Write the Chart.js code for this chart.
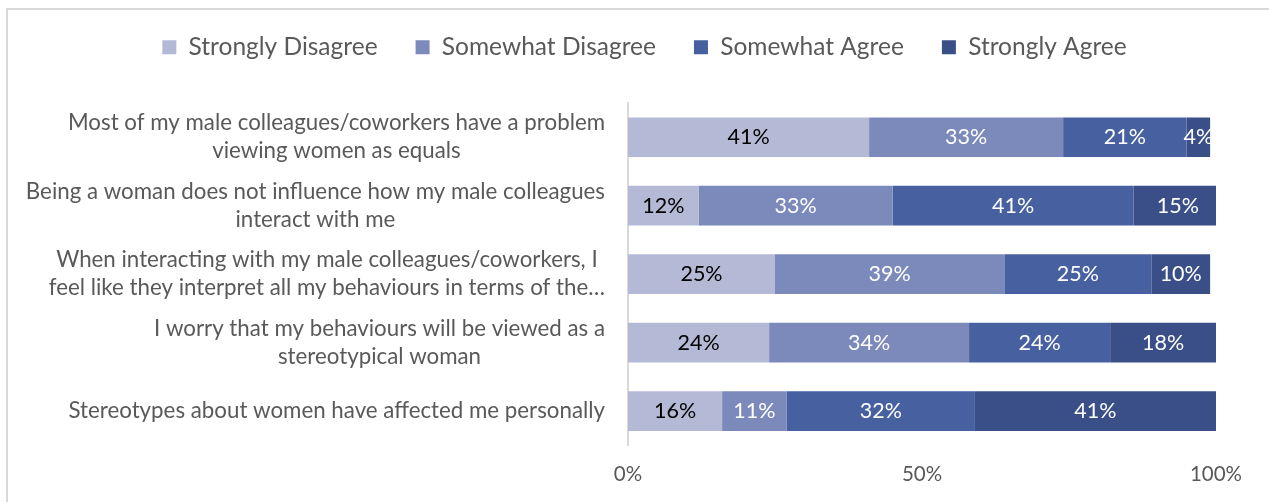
<!DOCTYPE html>
<html>
<head>
<meta charset="utf-8">
<script src="https://cdn.jsdelivr.net/npm/chart.js@4.4.1/dist/chart.umd.min.js"></script>
<style>
  html, body { margin: 0; padding: 0; background: #fff; }
  body { width: 1269px; height: 502px; overflow: hidden; position: relative; }
  .frame { position: absolute; left: 6px; top: 8px; width: 1300px; height: 600px;
           border-left: 2px solid #d9d9d9; border-top: 2px solid #d9d9d9; }
  #wrap { position: absolute; left: 0; top: 0; width: 1269px; height: 502px; }
</style>
</head>
<body>
<div class="frame"></div>
<div id="wrap"><canvas id="surveyChart"></canvas></div>
<script>
// Réponses à l'enquête (en % des répondantes)
const statements = [
    ['Most of my male colleagues/coworkers have a problem', 'viewing women as equals'],
    ['Being a woman does not influence how my male colleagues', 'interact with me'],
    ['When interacting with my male colleagues/coworkers, I', 'feel like they interpret all my behaviours in terms of the\u2026'],
    ['I worry that my behaviours will be viewed as a', 'stereotypical woman'],
    ['Stereotypes about women have affected me personally']
];
const stronglyDisagree = [41, 12, 25, 24, 16];
const somewhatDisagree = [33, 33, 39, 34, 11];
const somewhatAgree = [21, 41, 25, 24, 32];
const stronglyAgree = [4, 15, 10, 18, 41];
const xTicks = [0, 50, 100];

const FONT = 'Lato, "Open Sans", sans-serif';
const GREY = '#595959';

// Étiquettes des catégories : bloc aligné à droite, lignes centrées dans le bloc
const categoryLabels = {
    id: 'categoryLabels',
    afterDraw(chart) {
        const ctx = chart.ctx;
        const yScale = chart.scales.y;
        const right = chart.chartArea.left - 23;
        const lineH = 28;
        ctx.save();
        ctx.font = '22.3px ' + FONT;
        ctx.fillStyle = GREY;
        ctx.textAlign = 'center';
        ctx.textBaseline = 'middle';
        statements.forEach((lines, i) => {
            const y = yScale.getPixelForValue(i);
            const w = Math.max(...lines.map(l => ctx.measureText(l).width));
            const cx = right - w / 2;
            lines.forEach((l, j) => {
                ctx.fillText(l, cx, y + (j - (lines.length - 1) / 2) * lineH);
            });
        });
        ctx.restore();
    }
};

// Valeurs affichées au centre de chaque segment
const valueLabels = {
    id: 'valueLabels',
    afterDatasetsDraw(chart) {
        const ctx = chart.ctx;
        ctx.save();
        ctx.font = '21.5px ' + FONT;
        ctx.textAlign = 'center';
        ctx.textBaseline = 'middle';
        chart.data.datasets.forEach((ds, di) => {
            ctx.fillStyle = di === 0 ? '#000' : '#fff';
            chart.getDatasetMeta(di).data.forEach((bar, i) => {
                const x = (bar.x + bar.base) / 2;
                ctx.fillText(ds.data[i] + '%', x, bar.y);
            });
        });
        ctx.restore();
    }
};

// Hauteur fixe de la légende (laisse de l'espace au-dessus du graphique)
const legendSpacing = {
    id: 'legendSpacing',
    beforeUpdate(chart) {
        const lg = chart.legend;
        if (lg && !lg._spaced) {
            const fit = lg.fit.bind(lg);
            lg.fit = function() { fit(); this.height = 106; };
            lg._spaced = true;
        }
    }
};

const colors = ['#b4b9d6', '#7c89bb', '#4660a0', '#3a4f87'];

const ctx = document.getElementById('surveyChart').getContext('2d');
const chart = new Chart(ctx, {
    type: 'bar',
    data: {
        labels: statements,
        datasets: [
            { label: 'Strongly Disagree', data: stronglyDisagree, backgroundColor: colors[0] },
            { label: 'Somewhat Disagree', data: somewhatDisagree, backgroundColor: colors[1] },
            { label: 'Somewhat Agree', data: somewhatAgree, backgroundColor: colors[2] },
            { label: 'Strongly Agree', data: stronglyAgree, backgroundColor: colors[3] }
        ]
    },
    options: {
        indexAxis: 'y',
        responsive: true,
        maintainAspectRatio: false,
        animation: false,
        barPercentage: 0.58,
        categoryPercentage: 1,
        layout: { padding: { top: -3, right: 0, bottom: -2, left: 20 } },
        plugins: {
            legend: {
                position: 'top',
                labels: {
                    boxWidth: 14,
                    boxHeight: 14,
                    padding: 38,
                    color: GREY,
                    font: { family: FONT, size: 24.5 }
                }
            },
            tooltip: { enabled: false }
        },
        scales: {
            x: {
                stacked: true,
                min: 0,
                max: 100,
                afterBuildTicks: scale => { scale.ticks = xTicks.map(v => ({ value: v })); },
                grid: { display: false, drawTicks: false },
                border: { display: false },
                ticks: {
                    padding: 17,
                    color: GREY,
                    font: { family: FONT, size: 20.5 },
                    callback: v => v + '%'
                }
            },
            y: {
                stacked: true,
                grid: { display: false, drawTicks: false },
                border: { display: true, color: '#d9d9d9', width: 2 },
                ticks: { display: false },
                afterFit: scale => { scale.width = 608; }
            },
            // marge droite réservée à la fin de l'axe
            y2: {
                position: 'right',
                grid: { display: false, drawTicks: false },
                border: { display: false },
                ticks: { display: false },
                afterFit: scale => { scale.width = 53; }
            }
        }
    },
    plugins: [legendSpacing, categoryLabels, valueLabels]
});
</script>
</body>
</html>
